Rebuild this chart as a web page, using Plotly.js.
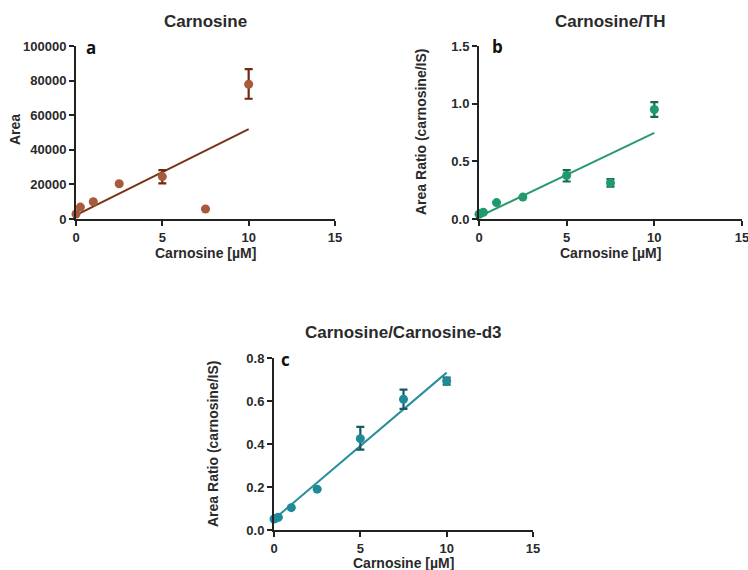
<!DOCTYPE html>
<html>
<head>
<meta charset="utf-8">
<script src="https://cdn.plot.ly/plotly-3.0.1.min.js"></script>
<style>html,body{margin:0;padding:0;background:#fff;}#chart{width:748px;height:570px;}</style>
</head>
<body>
<div id="chart"></div>
<script>
// Panel a: Carnosine (Area)
const concA = [0, 0.25, 1, 2.5, 5, 7.5, 10];
const areaA = [2900, 6900, 10000, 20400, 24500, 5800, 77900];
const errUpA = [0, 0, 0, 0, 3700, 0, 8700];
const errDnA = [0, 0, 0, 0, 3900, 0, 8400];
const fitXA = [0, 10];
const fitYA = [2300, 52000];

// Panel b: Carnosine/TH
const concB = [0, 0.1, 0.25, 1, 2.5, 5, 7.5, 10];
const ratioB = [0.041, 0.05, 0.058, 0.142, 0.19, 0.377, 0.313, 0.949];
const errUpB = [0, 0, 0, 0, 0, 0.047, 0.032, 0.064];
const errDnB = [0, 0, 0, 0, 0, 0.052, 0.032, 0.064];
const fitXB = [0, 10];
const fitYB = [0.02, 0.746];

// Panel c: Carnosine/Carnosine-d3
const concC = [0, 0.1, 0.25, 1, 2.5, 5, 7.5, 10];
const ratioC = [0.051, 0.055, 0.059, 0.104, 0.19, 0.425, 0.608, 0.693];
const errUpC = [0, 0, 0, 0, 0, 0.055, 0.045, 0.016];
const errDnC = [0, 0, 0, 0, 0, 0.051, 0.045, 0.017];
const fitXC = [0, 10];
const fitYC = [0.05, 0.732];

const xTicks = [0, 5, 10, 15];
const yTicksA = [0, 20000, 40000, 60000, 80000, 100000];
const yTickTextA = ['0', '20000', '40000', '60000', '80000', '100000'];
const yTicksB = [0, 0.5, 1.0, 1.5];
const yTickTextB = ['0.0', '0.5', '1.0', '1.5'];
const yTicksC = [0, 0.2, 0.4, 0.6, 0.8];
const yTickTextC = ['0.0', '0.2', '0.4', '0.6', '0.8'];

const colA = '#a85a3c', errColA = '#6e2a12', lineColA = '#7a3318';
const colB = '#1f9a6c', errColB = '#136b48', lineColB = '#2a9a6e';
const colC = '#1f8a9a', errColC = '#145a64', lineColC = '#2a8f9c';

function pts(x, y, up, dn, col, ecol, xa, ya) {
  return {x: x, y: y, type: 'scatter', mode: 'markers', xaxis: xa, yaxis: ya,
    marker: {color: col, size: 9}, cliponaxis: false,
    error_y: {type: 'data', array: up, arrayminus: dn, visible: true, color: ecol, thickness: 2.2, width: 4}};
}
function fit(x, y, col, xa, ya) {
  return {x: x, y: y, type: 'scatter', mode: 'lines', xaxis: xa, yaxis: ya,
    line: {color: col, width: 2}, cliponaxis: false};
}

const data = [
  fit(fitXA, fitYA, lineColA, 'x', 'y'),
  pts(concA, areaA, errUpA, errDnA, colA, errColA, 'x', 'y'),
  fit(fitXB, fitYB, lineColB, 'x2', 'y2'),
  pts(concB, ratioB, errUpB, errDnB, colB, errColB, 'x2', 'y2'),
  fit(fitXC, fitYC, lineColC, 'x3', 'y3'),
  pts(concC, ratioC, errUpC, errDnC, colC, errColC, 'x3', 'y3')
];

const tickFont = {family: 'Liberation Sans, Arial, sans-serif', size: 13, color: '#2a2a2a', weight: 'bold'};
function xax(dom, anchor) {
  return {domain: dom, anchor: anchor, range: [0, 15], tickvals: xTicks, ticks: 'outside', ticklen: 5, tickwidth: 2,
    tickcolor: '#222', showline: true, linecolor: '#222', linewidth: 2, showgrid: false, zeroline: false,
    tickfont: tickFont, fixedrange: true, ticklabeloverflow: 'allow'};
}
function yax(dom, anchor, range, vals, txt) {
  return {domain: dom, anchor: anchor, range: range, tickvals: vals, ticktext: txt, ticks: 'outside', ticklen: 5, tickwidth: 2,
    tickcolor: '#222', showline: true, linecolor: '#222', linewidth: 2, showgrid: false, zeroline: false,
    tickfont: tickFont, fixedrange: true, ticklabeloverflow: 'allow'};
}

const tf = {family: 'Liberation Sans, Arial, sans-serif', size: 17, color: '#2a2a2a', weight: 'bold'};
const af = {family: 'Liberation Sans, Arial, sans-serif', size: 14, color: '#2a2a2a', weight: 'bold'};
const lf = {family: 'Open Sans, sans-serif', size: 17, color: '#111', weight: 'bold'};
function ann(text, x, y, font, rot) {
  return {text: text, x: x / 748, y: 1 - y / 570, xref: 'paper', yref: 'paper', xanchor: 'center', yanchor: 'middle',
    showarrow: false, font: font, textangle: rot || 0};
}

const layout = {
  width: 748, height: 570,
  margin: {l: 0, r: 0, t: 0, b: 0},
  paper_bgcolor: '#fff', plot_bgcolor: '#fff',
  showlegend: false,
  xaxis: xax([76/748, 335/748], 'y'),
  yaxis: yax([1 - 219/570, 1 - 46/570], 'x', [0, 100000], yTicksA, yTickTextA),
  xaxis2: xax([479/748, 742/748], 'y2'),
  yaxis2: yax([1 - 219/570, 1 - 46/570], 'x2', [0, 1.5], yTicksB, yTickTextB),
  xaxis3: xax([274/748, 533/748], 'y3'),
  yaxis3: yax([1 - 530/570, 1 - 358/570], 'x3', [0, 0.8], yTicksC, yTickTextC),
  annotations: [
    ann('Carnosine', 205, 21, tf),
    ann('Carnosine [µM]', 205, 253, af),
    ann('Area', 15, 130, af, -90),
    ann('a', 91, 47, lf),
    ann('Carnosine/TH', 610, 21, tf),
    ann('Carnosine [µM]', 610, 253, af),
    ann('Area Ratio (carnosine/IS)', 421, 132, af, -90),
    ann('b', 497, 46, lf),
    ann('Carnosine/Carnosine-d3', 403, 332, tf),
    ann('Carnosine [µM]', 403, 563, af),
    ann('Area Ratio (carnosine/IS)', 213, 443, af, -90),
    ann('c', 285, 359, lf)
  ]
};

Plotly.newPlot('chart', data, layout, {displayModeBar: false, staticPlot: true});
</script>
</body>
</html>
